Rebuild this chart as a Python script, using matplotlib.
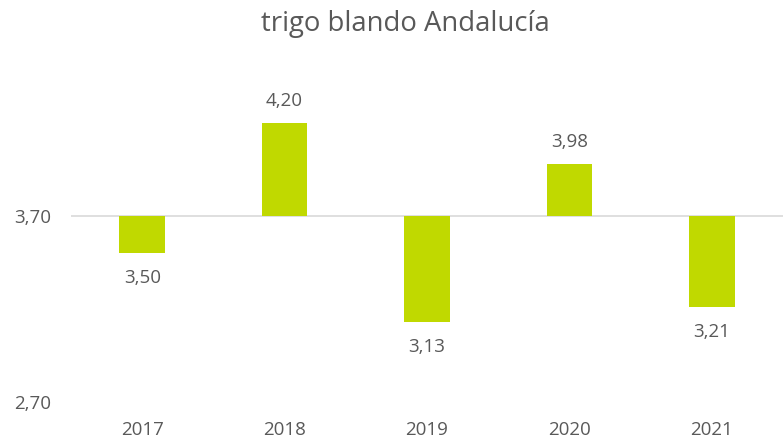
import matplotlib
matplotlib.use('Agg')
import matplotlib.pyplot as plt

years = ['2017', '2018', '2019', '2020', '2021']
values = [3.50, 4.20, 3.13, 3.98, 3.21]
base = 3.70
yticks = [2.70, 3.70]

txt = '#595959'
plt.rcParams['font.family'] = ['Open Sans', 'DejaVu Sans']

fig = plt.figure(figsize=(7.83, 4.43), dpi=100)
ax = fig.add_axes([71 / 783, 41 / 443, 712 / 783, 372 / 443])

x = range(len(years))
heights = [v - base for v in values]
ax.bar(x, heights, bottom=base, width=0.32, color='#c0d900', zorder=2)
ax.axhline(base, color='#d9d9d9', lw=1.2, zorder=1)

for i, v in enumerate(values):
    lab = f'{v:.2f}'.replace('.', ',')
    if v >= base:
        ax.annotate(lab, (i, v), xytext=(0, 9), textcoords='offset points',
                    ha='center', va='bottom', fontsize=13.5, color=txt)
    else:
        ax.annotate(lab, (i, v), xytext=(0, -11.5), textcoords='offset points',
                    ha='center', va='top', fontsize=13.5, color=txt)

ax.set_xlim(-0.5, len(years) - 0.5)
ax.set_ylim(2.70, 4.70)
ax.set_yticks(yticks)
ax.set_yticklabels([f'{t:.2f}'.replace('.', ',') for t in yticks])
ax.set_xticks(list(x))
ax.set_xticklabels(years)
ax.tick_params(axis='both', length=0, labelsize=13.5, labelcolor=txt)
ax.tick_params(axis='x', pad=14)
ax.tick_params(axis='y', pad=14)
for s in ax.spines.values():
    s.set_visible(False)

fig.text(405 / 783, 1 - 24 / 443, 'trigo blando Andalucía', ha='center', va='center',
         fontsize=19.8, color=txt)

fig.savefig('out.png', dpi=100)
